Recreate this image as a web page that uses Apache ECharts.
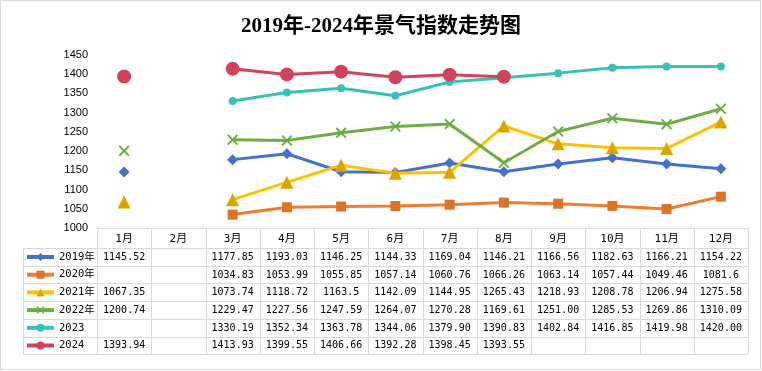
<!DOCTYPE html>
<html><head><meta charset="utf-8">
<script src="https://cdn.jsdelivr.net/npm/echarts@6/dist/echarts.min.js"></script>
<style>html,body{margin:0;padding:0;background:#fff}#c{width:762px;height:371px}</style>
</head><body><div id="c"></div>
<script>
var months = ['1月','2月','3月','4月','5月','6月','7月','8月','9月','10月','11月','12月'];
var seriesNames = ['2019年','2020年','2021年','2022年','2023','2024'];
var s2019 = [1145.52,null,1177.85,1193.03,1146.25,1144.33,1169.04,1146.21,1166.56,1182.63,1166.21,1154.22];
var s2020 = [null,null,1034.83,1053.99,1055.85,1057.14,1060.76,1066.26,1063.14,1057.44,1049.46,1081.6];
var s2021 = [1067.35,null,1073.74,1118.72,1163.5,1142.09,1144.95,1265.43,1218.93,1208.78,1206.94,1275.58];
var s2022 = [1200.74,null,1229.47,1227.56,1247.59,1264.07,1270.28,1169.61,1251.00,1285.53,1269.86,1310.09];
var s2023 = [null,null,1330.19,1352.34,1363.78,1344.06,1379.90,1390.83,1402.84,1416.85,1419.98,1420.00];
var s2024 = [1393.94,null,1413.93,1399.55,1406.66,1392.28,1398.45,1393.55,null,null,null,null];
var tableDecimals = [null,null,null,2,2,null];
var yMin = 1000, yMax = 1450, yStep = 50;

var allData = [s2019,s2020,s2021,s2022,s2023,s2024];
var lineColors = ['#4472C4','#ED7D31','#FFC000','#70AD47','#36C2B4','#D0435A'];
var markColors = ['#4472C4','#DD7229','#DBA500','#6AAA45','#36C2B4','#D0435A'];
var xPath = 'path://M0,0.12L0.12,0L0.5,0.38L0.88,0L1,0.12L0.62,0.5L1,0.88L0.88,1L0.5,0.62L0.12,1L0,0.88L0.38,0.5Z';
var symbols = ['diamond','rect','triangle',xPath,'circle','circle'];
var symSizes = [11,10,13,11,8,14];

var G = {left:97, right:748, top:55, axisY:228};
var rowsY = [248,265.7,283.4,301.1,318.8,336.5,354];
var tableLeft = 23;
var colW = (G.right-G.left)/months.length;
var gray = '#D9D9D9';
var tFont = "10px 'DejaVu Sans Mono','Noto Sans CJK SC'";

var graphics = [];
function ln(x1,y1,x2,y2){graphics.push({type:'line',silent:true,shape:{x1:x1,y1:y1,x2:x2,y2:y2},style:{stroke:gray,lineWidth:1}});}
graphics.push({type:'rect',silent:true,shape:{x:0.5,y:0.5,width:760,height:369},style:{fill:'none',stroke:gray,lineWidth:1}});
ln(G.left, G.axisY+0.5, G.right, G.axisY+0.5);
rowsY.forEach(function(y){ ln(tableLeft, Math.round(y)+0.5, G.right, Math.round(y)+0.5); });
ln(tableLeft+0.5, rowsY[0], tableLeft+0.5, rowsY[rowsY.length-1]);
for (var i=0;i<=months.length;i++){
  var x = Math.round(G.left+i*colW)+0.5;
  ln(x, G.axisY, x, rowsY[rowsY.length-1]);
}
allData.forEach(function(arr, si){
  var yc = (rowsY[si]+rowsY[si+1])/2;
  arr.forEach(function(v, ci){
    if (v === null) return;
    var t = tableDecimals[si] ? v.toFixed(tableDecimals[si]) : String(v);
    graphics.push({type:'text',silent:true,style:{text:t,x:G.left+(ci+0.5)*colW,y:yc+0.5,font:tFont,fill:'#000',
      align:'center',verticalAlign:'middle',textAlign:'center',textVerticalAlign:'middle'}});
  });
});

var series = allData.map(function(arr, i){
  return {name:seriesNames[i], type:'line', data:arr, connectNulls:false,
    symbol:symbols[i], symbolSize:symSizes[i], showAllSymbol:true,
    lineStyle:{color:lineColors[i], width:3},
    itemStyle:{color:markColors[i], borderWidth:0},
    emphasis:{disabled:true}, z: 2+i};
});

var chart = echarts.init(document.getElementById('c'));
chart.setOption({
  animation:false,
  backgroundColor:'#fff',
  title:{text:'2019年-2024年景气指数走势图', left:'center', top:11,
    textStyle:{fontSize:21, fontWeight:'bold', color:'#000', fontFamily:"'Liberation Serif','Noto Sans CJK SC'"}},
  legend:{orient:'vertical', left:25, top:250, padding:0, itemWidth:27, itemHeight:10, itemGap:3.7,
    data:seriesNames, selectedMode:false, lineStyle:{width:4},
    textStyle:{fontSize:10.5, lineHeight:14, color:'#000', fontFamily:"'DejaVu Sans Mono','Noto Sans CJK SC'"}},
  grid:{left:G.left, right:762-G.right, top:G.top, bottom:371-G.axisY},
  xAxis:{type:'category', data:months, boundaryGap:true,
    axisLine:{show:false}, axisTick:{show:false},
    axisLabel:{margin:6, fontSize:11, color:'#000', fontFamily:"'DejaVu Sans Mono','Noto Sans CJK SC'"}},
  yAxis:{type:'value', min:yMin, max:yMax, interval:yStep, splitLine:{show:false},
    axisLine:{show:false}, axisTick:{show:false},
    axisLabel:{margin:9, fontSize:11, color:'#000', fontFamily:"'Liberation Sans'",
      formatter:function(v){return String(v);}}},
  graphic:{elements:graphics},
  series:series
});
</script></body></html>
